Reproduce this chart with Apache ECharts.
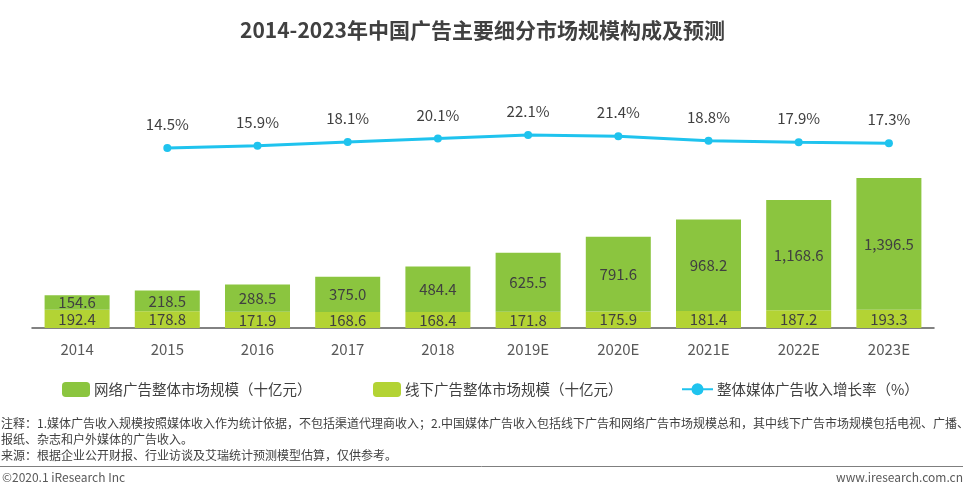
<!DOCTYPE html>
<html><head><meta charset="utf-8">
<script src="https://cdn.jsdelivr.net/npm/echarts@6/dist/echarts.min.js"></script>
<style>html,body{margin:0;padding:0;background:#fff}#c{width:965px;height:487px}</style>
</head><body><div id="c"></div>
<script>
const categories = ['2014','2015','2016','2017','2018','2019E','2020E','2021E','2022E','2023E'];
const offlineValues = [192.4,178.8,171.9,168.6,168.4,171.8,175.9,181.4,187.2,193.3];
const onlineValues = [154.6,218.5,288.5,375.0,484.4,625.5,791.6,968.2,1168.6,1396.5];
const growthValues = [14.5,15.9,18.1,20.1,22.1,21.4,18.8,17.9,17.3];
const growthCategories = ['2015','2016','2017','2018','2019E','2020E','2021E','2022E','2023E'];
const nameOnline = '网络广告整体市场规模（十亿元）';
const nameOffline = '线下广告整体市场规模（十亿元）';
const nameGrowth = '整体媒体广告收入增长率（%）';

const FONT = '"Noto Sans CJK SC","Noto Sans",sans-serif';
const fmt = v => Number(v).toLocaleString('en-US',{minimumFractionDigits:1,maximumFractionDigits:1});
const growthData = categories.map(c => { const i = growthCategories.indexOf(c); return i < 0 ? null : growthValues[i]; });

const chart = echarts.init(document.getElementById('c'));
const legendBase = {top: 377, itemWidth: 28, itemHeight: 15, itemGap: 4,
  textStyle: {fontFamily: FONT, fontSize: 14.5, color: '#404040', padding: [0,0,0,-1]}};
chart.setOption({
  backgroundColor: '#fff',
  textStyle: {fontFamily: FONT},
  title: {text: '2014-2023年中国广告主要细分市场规模构成及预测', left: 'center', top: 15,
    textStyle: {fontFamily: FONT, fontSize: 21, fontWeight: 'bold', color: '#404040'}},
  legend: [
    Object.assign({}, legendBase, {left: 57, data: [nameOnline]}),
    Object.assign({}, legendBase, {left: 368, data: [nameOffline]}),
    Object.assign({}, legendBase, {left: 676, itemWidth: 31, data: [nameGrowth]})
  ],
  grid: {left: 32, right: 31, top: 60, bottom: 159, containLabel: false},
  xAxis: {type: 'category', data: categories,
    axisLine: {lineStyle: {color: '#595959', width: 1.5}},
    axisTick: {show: false},
    axisLabel: {fontFamily: FONT, fontSize: 15, color: '#595959', margin: 14}},
  yAxis: [
    {type: 'value', min: 0, max: 2840, show: false, splitLine: {show: false}},
    {type: 'value', min: -90.7, max: 66, show: false, splitLine: {show: false}}
  ],
  series: [
    {name: nameOffline, type: 'bar', stack: 'a', data: offlineValues, barWidth: 65,
      itemStyle: {color: '#B3D334'},
      label: {show: true, position: 'inside', formatter: p => fmt(p.value), fontSize: 15, color: '#404040', fontFamily: FONT}},
    {name: nameOnline, type: 'bar', stack: 'a', data: onlineValues, barWidth: 65,
      itemStyle: {color: '#8BC53F'},
      label: {show: true, position: 'inside', formatter: p => fmt(p.value), fontSize: 15, color: '#404040', fontFamily: FONT}},
    {name: nameGrowth, type: 'line', yAxisIndex: 1, data: growthData,
      symbol: 'circle', symbolSize: 8, lineStyle: {color: '#1FC3EE', width: 3},
      itemStyle: {color: '#1FC3EE'},
      label: {show: true, position: 'top', distance: 12, formatter: p => p.value.toFixed(1) + '%', fontSize: 15, color: '#404040', fontFamily: FONT}}
  ],
  graphic: [
    {type: 'text', left: 1, top: 417, style: {text: '注释：1.媒体广告收入规模按照媒体收入作为统计依据，不包括渠道代理商收入；2.中国媒体广告收入包括线下广告和网络广告市场规模总和，其中线下广告市场规模包括电视、广播、', fontSize: 12, fill: '#404040', fontFamily: FONT}},
    {type: 'text', left: 1, top: 433, style: {text: '报纸、杂志和户外媒体的广告收入。', fontSize: 12, fill: '#404040', fontFamily: FONT}},
    {type: 'text', left: 1, top: 449, style: {text: '来源：根据企业公开财报、行业访谈及艾瑞统计预测模型估算，仅供参考。', fontSize: 12, fill: '#404040', fontFamily: FONT}},
    {type: 'line', shape: {x1: 0, y1: 466.5, x2: 963, y2: 466.5}, style: {stroke: '#7f7f7f', lineWidth: 1}},
    {type: 'text', left: 2, top: 471, style: {text: '©2020.1 iResearch Inc', fontSize: 12, fill: '#595959', fontFamily: FONT}},
    {type: 'text', right: 2, top: 471, style: {text: 'www.iresearch.com.cn', fontSize: 12, fill: '#595959', fontFamily: FONT}}
  ]
});
</script></body></html>
